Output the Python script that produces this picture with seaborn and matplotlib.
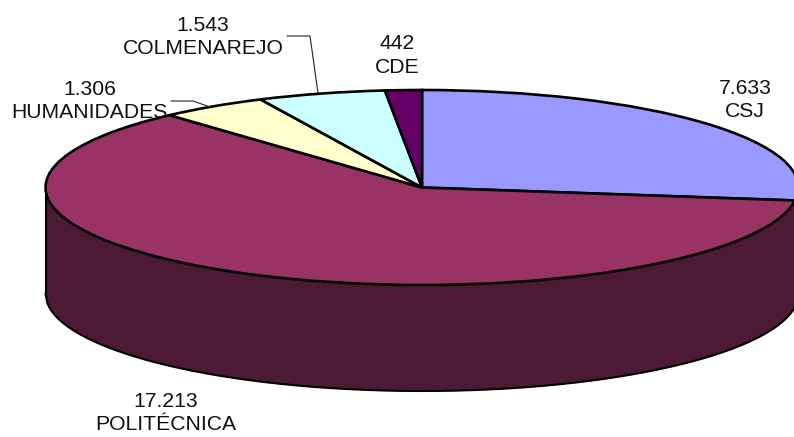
import numpy as np
import seaborn as sns
from matplotlib import pyplot as plt
from matplotlib.transforms import Affine2D

# order as drawn, clockwise from the top
campus = ['CSJ', 'POLITÉCNICA', 'HUMANIDADES', 'COLMENAREJO', 'CDE']
values = [7633, 17213, 1306, 1543, 442]
top_colors = ['#9999FF', '#993366', '#FFFFCC', '#CCFFFF', '#660066']
side_color = '#4D1A33'

W, H = 794, 437
CX, CY = 422, 187.5
RX, RY = 376.5, 97.5
DEPTH = 106 / RY

sns.set_theme(style='white')
plt.rcParams['font.family'] = ['Liberation Sans', 'DejaVu Sans']

fig = plt.figure(figsize=(W / 100, H / 100), dpi=100)
ax = fig.add_axes([0, 0, 1, 1])

# top of the pie, radius 1 in data units
palette = sns.color_palette(top_colors)
ax.pie(values, colors=palette, startangle=90, counterclock=False, radius=1,
       wedgeprops=dict(edgecolor='black', linewidth=1.9, zorder=3))

# axes limits do the squashing into an ellipse
ax.set_aspect('auto')
ax.set_xlim(-CX / RX, (W - CX) / RX)
ax.set_ylim((CY - H) / RY, CY / RY)

# side wall
x = np.linspace(-1, 1, 400)
lower = -np.sqrt(1 - x ** 2)
ax.fill_between(x, lower, lower - DEPTH, color=side_color, linewidth=0, zorder=1)
ax.plot(x, lower - DEPTH, color='black', lw=1.5, zorder=2, solid_capstyle='round')
ax.plot([-1, -1], [0, -DEPTH], color='black', lw=1.5, zorder=2, solid_capstyle='round')
ax.plot([1, 1], [0, -DEPTH], color='black', lw=1.5, zorder=2, solid_capstyle='round')

# pixel coords from the top-left of the picture
px = Affine2D().scale(1, -1).translate(0, H)

label_pos = {
    'CSJ': (745, 100),
    'POLITÉCNICA': (166, 413),
    'HUMANIDADES': (89.5, 101),
    'COLMENAREJO': (203, 37),
    'CDE': (397.5, 55.5),
}
for name, val in zip(campus, values):
    txt = f'{val:,}'.replace(',', '.') + '\n' + name
    ax.text(*label_pos[name], txt, transform=px, ha='center', va='center',
            fontsize=15.2, color='#111111', linespacing=1.32, zorder=6)

# leader lines
leaders = [
    ([287, 310, 318], [36, 36, 93]),
    ([171, 193, 210], [101, 101, 107]),
]
for lx, ly in leaders:
    ax.plot(lx, ly, color='#222222', lw=0.8, transform=px, zorder=5)

fig.savefig('out.png', dpi=100)
